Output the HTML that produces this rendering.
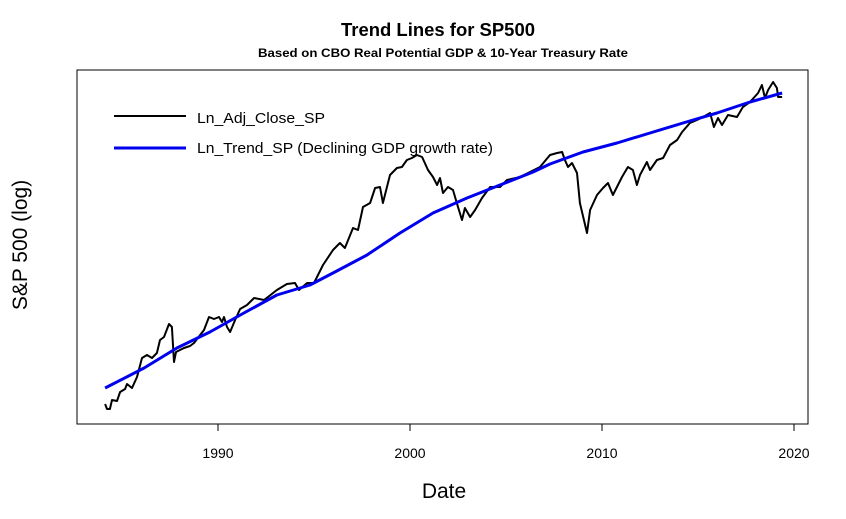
<!DOCTYPE html>
<html>
<head>
<meta charset="utf-8">
<style>
  html,body{margin:0;padding:0;background:#fff;}
  svg{display:block;font-family:"Liberation Sans",Arial,sans-serif;}
</style>
</head>
<body>
<svg id="chart" width="846" height="519" viewBox="0 0 846 519">
  <rect x="0" y="0" width="846" height="519" fill="#fff"/>
  <text x="438" y="36" text-anchor="middle" font-size="18" font-weight="bold" textLength="194" lengthAdjust="spacingAndGlyphs">Trend Lines for SP500</text>
  <text x="443" y="57" text-anchor="middle" font-size="12" font-weight="bold" textLength="370" lengthAdjust="spacingAndGlyphs">Based on CBO Real Potential GDP &amp; 10-Year Treasury Rate</text>
  <rect x="77" y="70" width="731" height="354" fill="none" stroke="#000" stroke-width="1"/>
  <g id="xaxis"></g>
  <g id="series"></g>
  <text x="444" y="498" text-anchor="middle" font-size="21">Date</text>
  <text transform="translate(27,245) rotate(-90)" text-anchor="middle" font-size="21">S&amp;P 500 (log)</text>
  <g>
    <line x1="114" y1="116" x2="186" y2="116" stroke="#000" stroke-width="2"/>
    <text x="197" y="123" font-size="15" textLength="128" lengthAdjust="spacingAndGlyphs">Ln_Adj_Close_SP</text>
    <line x1="114" y1="148" x2="186" y2="148" stroke="#0000ee" stroke-width="3"/>
    <text x="197" y="153" font-size="15" textLength="296" lengthAdjust="spacingAndGlyphs">Ln_Trend_SP (Declining GDP growth rate)</text>
  </g>
</svg>
<script>
const xTicks = [1990, 2000, 2010, 2020];
const closeDates = [1984.12,1984.22,1984.37,1984.48,1984.74,1984.90,1985.16,1985.26,1985.52,1985.78,1986.04,1986.30,1986.56,1986.82,1986.98,1987.19,1987.45,1987.60,1987.71,1987.81,1988.23,1988.54,1988.75,1989.27,1989.53,1989.79,1990.05,1990.21,1990.31,1990.47,1990.63,1990.89,1991.15,1991.51,1991.88,1992.40,1993.07,1993.59,1994.01,1994.22,1994.64,1995.00,1995.47,1995.99,1996.35,1996.61,1997.03,1997.29,1997.55,1997.92,1998.18,1998.44,1998.59,1998.96,1999.32,1999.58,1999.84,2000.10,2000.36,2000.63,2000.94,2001.20,2001.41,2001.56,2001.72,2001.98,2002.24,2002.50,2002.71,2002.86,2003.13,2003.39,2003.75,2004.17,2004.69,2005.05,2005.73,2006.25,2006.77,2007.29,2007.66,2007.92,2008.07,2008.23,2008.44,2008.70,2008.85,2009.22,2009.38,2009.74,2010.05,2010.31,2010.57,2011.04,2011.35,2011.61,2011.82,2011.98,2012.34,2012.50,2012.86,2013.18,2013.54,2013.91,2014.17,2014.58,2014.95,2015.26,2015.63,2015.83,2016.04,2016.25,2016.56,2017.03,2017.34,2017.71,2018.13,2018.33,2018.49,2018.65,2018.91,2019.11,2019.17,2019.38];
const closeValues = [5.10,5.05,5.05,5.14,5.13,5.22,5.25,5.30,5.26,5.37,5.56,5.59,5.56,5.61,5.74,5.77,5.90,5.87,5.52,5.62,5.66,5.68,5.71,5.84,5.97,5.95,5.97,5.92,5.97,5.87,5.82,5.94,6.05,6.09,6.16,6.14,6.24,6.30,6.31,6.24,6.31,6.31,6.49,6.64,6.71,6.66,6.86,6.84,7.07,7.11,7.26,7.27,7.11,7.39,7.46,7.47,7.54,7.56,7.59,7.57,7.44,7.37,7.29,7.36,7.21,7.27,7.24,7.07,6.94,7.06,6.97,7.04,7.16,7.27,7.27,7.34,7.37,7.42,7.47,7.59,7.61,7.62,7.54,7.47,7.51,7.41,7.11,6.81,7.04,7.19,7.26,7.31,7.19,7.37,7.47,7.44,7.29,7.39,7.52,7.44,7.54,7.56,7.69,7.74,7.82,7.91,7.94,7.97,8.01,7.87,7.96,7.89,7.99,7.97,8.07,8.12,8.21,8.29,8.16,8.24,8.32,8.26,8.17,8.17];
const trendDates = [1984.12,1986.15,1987.86,1989.58,1991.35,1993.07,1994.79,1995.99,1997.76,1999.48,2001.20,2002.97,2004.69,2006.41,2007.29,2009.01,2010.78,2012.50,2014.22,2015.99,2017.71,2019.38];
const trendValues = [5.26,5.46,5.66,5.82,6.01,6.19,6.29,6.41,6.59,6.81,7.01,7.16,7.29,7.42,7.50,7.62,7.71,7.81,7.91,8.01,8.12,8.21];

const NS = "http://www.w3.org/2000/svg";
const xScale = yr => 218 + (yr - 1990) * 19.2;
const yScale = v => 70 + (8.44 - v) / (8.44 - 4.90) * 354;

const xg = document.getElementById('xaxis');
const axisLine = document.createElementNS(NS, 'line');
axisLine.setAttribute('x1', xScale(xTicks[0])); axisLine.setAttribute('x2', xScale(xTicks[xTicks.length-1]));
axisLine.setAttribute('y1', 424); axisLine.setAttribute('y2', 424);
axisLine.setAttribute('stroke', '#000');


xg.appendChild(axisLine);
xTicks.forEach(t => {
  const tk = document.createElementNS(NS, 'line');
  tk.setAttribute('x1', xScale(t)); tk.setAttribute('x2', xScale(t));
  tk.setAttribute('y1', 424); tk.setAttribute('y2', 431);
  tk.setAttribute('stroke', '#000');
  
  
  xg.appendChild(tk);
  const lb = document.createElementNS(NS, 'text');
  lb.setAttribute('x', xScale(t)); lb.setAttribute('y', 458);
  lb.setAttribute('text-anchor', 'middle'); lb.setAttribute('font-size', '14');
  lb.textContent = t;
  
  
  xg.appendChild(lb);
});

const sg = document.getElementById('series');
function drawLine(dates, vals, color, width, name) {
  const pl = document.createElementNS(NS, 'polyline');
  pl.setAttribute('points', dates.map((d, i) => xScale(d).toFixed(1) + ',' + yScale(vals[i]).toFixed(1)).join(' '));
  pl.setAttribute('fill', 'none');
  pl.setAttribute('stroke', color);
  pl.setAttribute('stroke-width', width);
  pl.setAttribute('stroke-linejoin', 'round');
  
  
  sg.appendChild(pl);
}
drawLine(closeDates, closeValues, '#000', 2, 'ln-adj-close-line');
drawLine(trendDates, trendValues, '#0000ee', 3, 'ln-trend-line');
</script>
</body>
</html>
